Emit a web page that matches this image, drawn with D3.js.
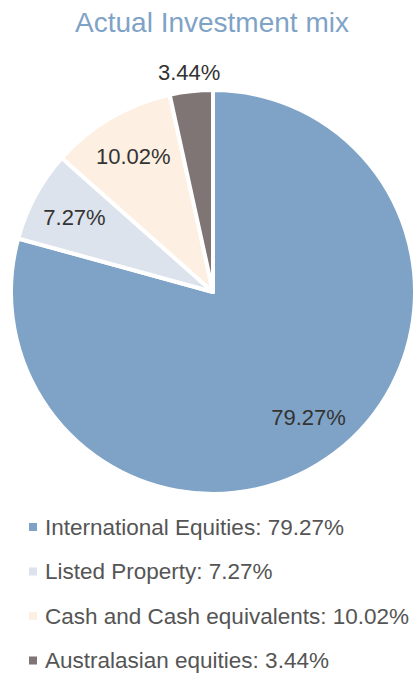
<!DOCTYPE html>
<html>
<head>
<meta charset="utf-8">
<script src="https://cdn.jsdelivr.net/npm/d3@7"></script>
<style>
  body { margin: 0; background: #fff; }
  svg { display: block; font-family: "Liberation Sans", Arial, sans-serif; }
</style>
</head>
<body>
<div id="chart"></div>
<script>
// data
var labels = ["International Equities", "Listed Property", "Cash and Cash equivalents", "Australasian equities"];
var values = [79.27, 7.27, 10.02, 3.44];
var colors = ["#7fa3c6", "#dce3ec", "#fdefe1", "#7e7574"];

var width = 416, height = 675;
var cx = 213, cy = 292, radius = 202;

var data = labels.map(function(l, i) { return { label: l, value: values[i], color: colors[i] }; });

var svg = d3.select("#chart").append("svg")
	.attr("width", width)
	.attr("height", height);

svg.append("text")
	.attr("x", 212)
	.attr("y", 32)
	.attr("text-anchor", "middle")
	.style("font-size", "28px")
	.style("fill", "#7fa3c6")
	.text("Actual Investment mix");

var pie = d3.pie()
	.sort(null)
	.value(function(d) { return d.value; });

var arc = d3.arc()
	.innerRadius(0)
	.outerRadius(radius);

var inLabel = d3.arc()
	.innerRadius(radius * 0.78)
	.outerRadius(radius * 0.78);

var outLabel = d3.arc()
	.innerRadius(radius + 19)
	.outerRadius(radius + 19);

var g = svg.append("g")
	.attr("transform", "translate(" + cx + "," + cy + ")");

var slices = g.selectAll(".arc")
	.data(pie(data))
	.enter().append("g")
	.attr("class", "arc");

slices.append("path")
	.attr("d", arc)
	.attr("fill", function(d) { return d.data.color; })
	.style("stroke", "#fff")
	.style("stroke-width", "4px")
	.style("stroke-linejoin", "round");

slices.append("text")
	.attr("transform", function(d) {
		var a = d.data.value < 5 ? outLabel : inLabel;
		return "translate(" + a.centroid(d) + ")";
	})
	.attr("dy", "0.35em")
	.style("text-anchor", "middle")
	.style("font-size", "22px")
	.style("fill", "#333")
	.text(function(d) { return d.data.value.toFixed(2) + "%"; });

// legend
var legend = svg.append("g")
	.attr("transform", "translate(29, 527)");

var item = legend.selectAll(".item")
	.data(data)
	.enter().append("g")
	.attr("class", "item")
	.attr("transform", function(d, i) { return "translate(0," + (i * 44.5) + ")"; });

item.append("rect")
	.attr("x", 0)
	.attr("y", -4)
	.attr("width", 8)
	.attr("height", 8)
	.attr("fill", function(d) { return d.color; });

item.append("text")
	.attr("x", 16)
	.attr("dy", "0.35em")
	.style("font-size", "22.5px")
	.style("fill", "#555")
	.text(function(d) { return d.label + ": " + d.value.toFixed(2) + "%"; });
</script>
</body>
</html>
